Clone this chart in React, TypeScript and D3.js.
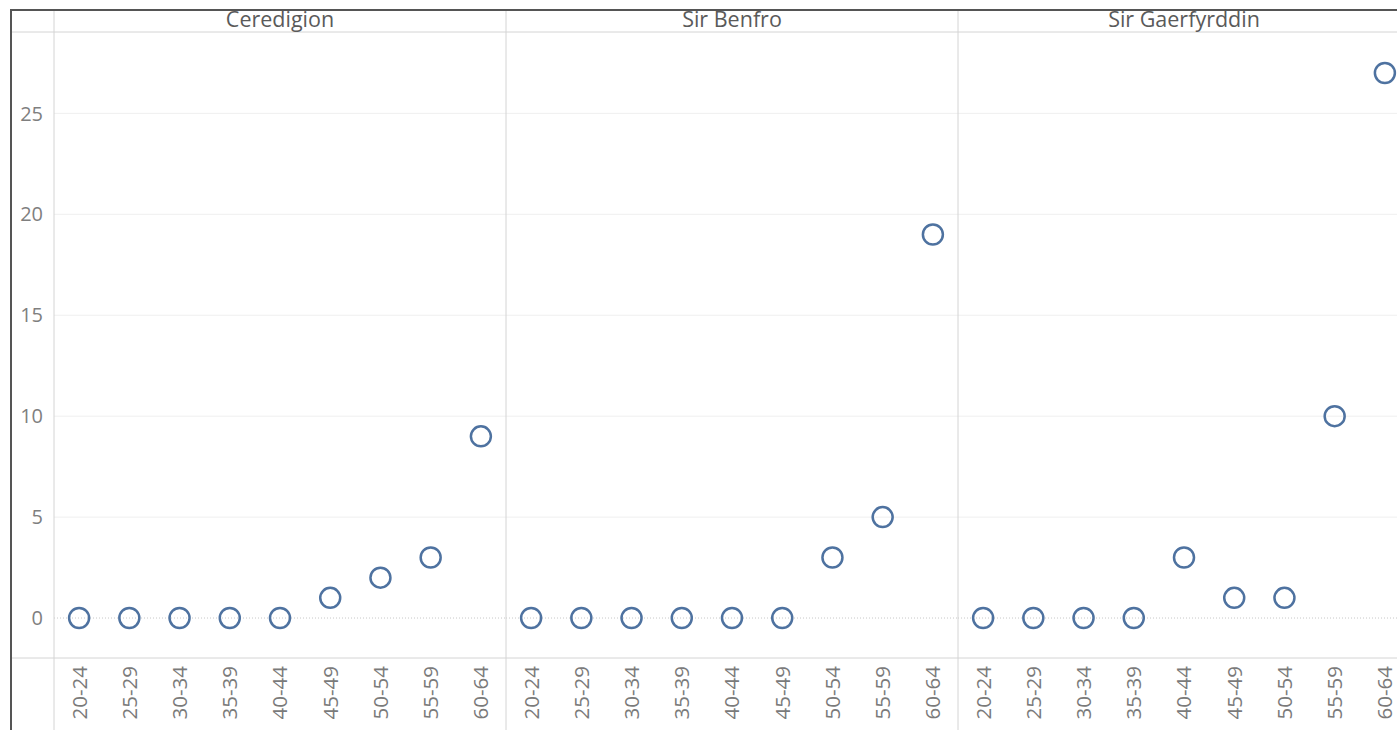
import React from "react";
import * as d3 from "d3";

const regions = ["Ceredigion", "Sir Benfro", "Sir Gaerfyrddin"];
const ageGroups = ["20-24", "25-29", "30-34", "35-39", "40-44", "45-49", "50-54", "55-59", "60-64"];
const ceredigion = [0, 0, 0, 0, 0, 1, 2, 3, 9];
const sirBenfro = [0, 0, 0, 0, 0, 0, 3, 5, 19];
const sirGaerfyrddin = [0, 0, 0, 0, 3, 1, 1, 10, 27];
const seriesByRegion = [ceredigion, sirBenfro, sirGaerfyrddin];
const yTicks = [0, 5, 10, 15, 20, 25];

export default function App() {
  const W = 1397;
  const H = 730;
  const frameLeft = 11;
  const frameTop = 10;
  const headerBottom = 32;
  const axisLeft = 54;
  const panelW = 452;
  const plotBottom = 658;
  const font = "'Open Sans', 'Noto Sans', sans-serif";

  const y = d3.scaleLinear().domain([-1.98, 29.03]).range([plotBottom, headerBottom]);
  const panelX = d3
    .scaleBand<string>()
    .domain(regions)
    .range([axisLeft, axisLeft + panelW * regions.length])
    .padding(0);
  const x = d3.scaleBand<string>().domain(ageGroups).range([0, panelW]).padding(0);

  return (
    <svg
      width={W}
      height={H}
      style={{ position: "absolute", left: 0, top: 0, display: "block", background: "#fff" }}
    >
      {/* gridlines */}
      {regions.map((r) => (
        <g key={"g" + r} transform={`translate(${panelX(r)},0)`}>
          {yTicks
            .filter((t) => t !== 0)
            .map((t) => (
              <line key={t} x1={0} x2={panelW} y1={y(t)} y2={y(t)} stroke="#efefef" strokeWidth={1} />
            ))}
          <line
            x1={0}
            x2={panelW}
            y1={y(0)}
            y2={y(0)}
            stroke="#c8c8c8"
            strokeWidth={1}
            strokeDasharray="1,2"
          />
        </g>
      ))}

      {/* frame lines */}
      <line x1={frameLeft} x2={W} y1={headerBottom} y2={headerBottom} stroke="#d4d4d4" strokeWidth={1} />
      <line x1={frameLeft} x2={W} y1={plotBottom} y2={plotBottom} stroke="#d4d4d4" strokeWidth={1} />
      <line x1={axisLeft} x2={axisLeft} y1={frameTop} y2={H} stroke="#d4d4d4" strokeWidth={1} />
      {regions.slice(1).map((r) => (
        <line key={"s" + r} x1={panelX(r)!} x2={panelX(r)!} y1={frameTop} y2={H} stroke="#d4d4d4" strokeWidth={1} />
      ))}
      <line x1={frameLeft - 1} x2={W} y1={frameTop} y2={frameTop} stroke="#555" strokeWidth={2} />
      <line x1={frameLeft} x2={frameLeft} y1={frameTop} y2={H} stroke="#555" strokeWidth={2} />

      {/* y axis labels */}
      {yTicks.map((t) => (
        <text
          key={"y" + t}
          x={43}
          y={y(t)}
          dy="0.36em"
          textAnchor="end"
          fontFamily={font}
          fontSize={20}
          fill="#7f7f7f"
        >
          {t}
        </text>
      ))}

      {/* headers */}
      {regions.map((r) => (
        <text
          key={"h" + r}
          x={panelX(r)! + panelW / 2}
          y={27}
          textAnchor="middle"
          fontFamily={font}
          fontSize={21.5}
          fill="#5a5a5a"
        >
          {r}
        </text>
      ))}

      {/* points and x labels */}
      {regions.map((r, ri) => (
        <g key={"p" + r} transform={`translate(${panelX(r)},0)`}>
          {ageGroups.map((a, i) => (
            <circle
              key={a}
              cx={x(a)! + x.bandwidth() / 2}
              cy={y(seriesByRegion[ri][i])}
              r={10}
              fill="none"
              stroke="#4e72a0"
              strokeWidth={2.5}
            />
          ))}
          {ageGroups.map((a) => (
            <text
              key={"t" + a}
              transform={`translate(${x(a)! + x.bandwidth() / 2},666) rotate(-90)`}
              textAnchor="end"
              dy="0.36em"
              fontFamily={font}
              fontSize={20.5}
              fill="#7a7a7a"
            >
              {a}
            </text>
          ))}
        </g>
      ))}
    </svg>
  );
}
